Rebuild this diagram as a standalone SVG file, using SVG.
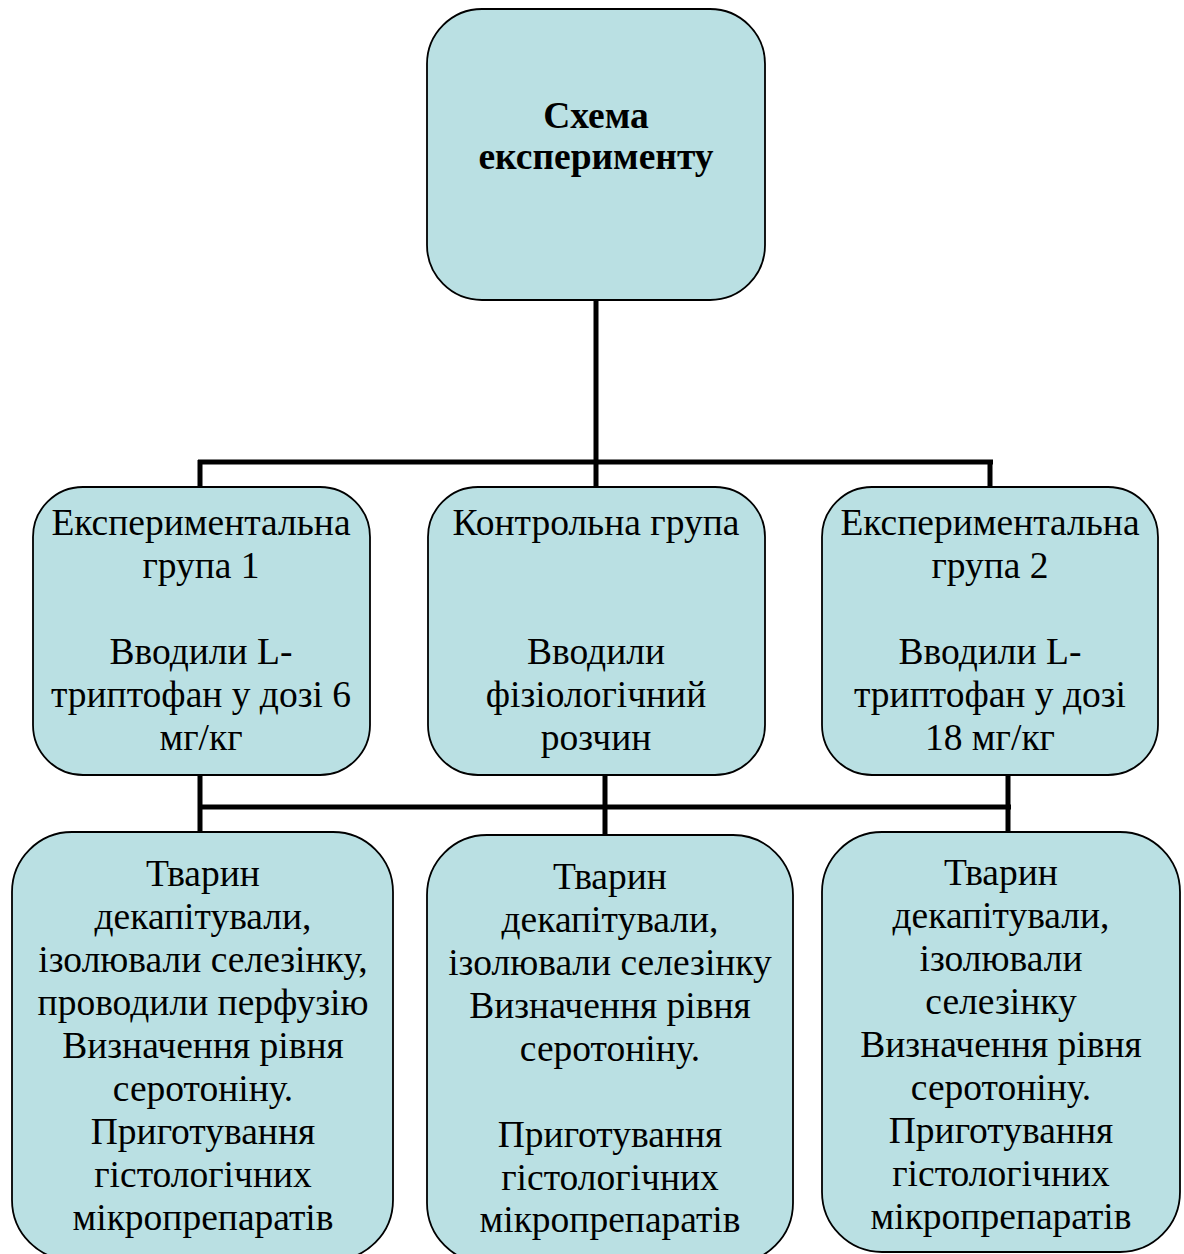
<svg xmlns="http://www.w3.org/2000/svg" width="1184" height="1254" viewBox="0 0 1184 1254">
<style>
.box{fill:#BAE0E3;stroke:#000;stroke-width:1.8}
.t{font-family:"Liberation Serif","Times New Roman",serif;font-size:37.5px;fill:#000;text-anchor:middle}
.b{font-weight:bold;font-size:37.5px}
.c{stroke:#000;stroke-width:5;fill:none;stroke-linecap:butt}
</style>
<rect width="1184" height="1254" fill="#fff"/>
<g id="connectors">
<path class="c" d="M596 300V462M198 462H993M200 460V487M596 460V487M990 460V487"/>
<path class="c" d="M200 775V832M198 807H1011M605 775V836M1008 775V832"/>
</g>
<g id="top">
<rect class="box" x="427" y="9" width="338" height="291" rx="55"/>
<text class="t b" x="596" y="128">Схема</text>
<text class="t b" x="596" y="169">експерименту</text>
</g>
<g id="exp1">
<rect class="box" x="33" y="487" width="337" height="288" rx="50"/>
<text class="t" x="201" y="535">Експериментальна</text>
<text class="t" x="201" y="578">група 1</text>
<text class="t" x="201" y="664">Вводили L-</text>
<text class="t" x="201" y="707">триптофан у дозі 6</text>
<text class="t" x="201" y="750">мг/кг</text>
</g>
<g id="control">
<rect class="box" x="428" y="487" width="337" height="288" rx="50"/>
<text class="t" x="596" y="535">Контрольна група</text>
<text class="t" x="596" y="664">Вводили</text>
<text class="t" x="596" y="707">фізіологічний</text>
<text class="t" x="596" y="750">розчин</text>
</g>
<g id="exp2">
<rect class="box" x="822" y="487" width="336" height="288" rx="50"/>
<text class="t" x="990" y="535">Експериментальна</text>
<text class="t" x="990" y="578">група 2</text>
<text class="t" x="990" y="664">Вводили L-</text>
<text class="t" x="990" y="707">триптофан у дозі</text>
<text class="t" x="990" y="750">18 мг/кг</text>
</g>
<g id="res1">
<rect class="box" x="12" y="832" width="381" height="428" rx="60"/>
<text class="t" x="203" y="886">Тварин</text>
<text class="t" x="203" y="929">декапітували,</text>
<text class="t" x="203" y="972">ізолювали селезінку,</text>
<text class="t" x="203" y="1015">проводили перфузію</text>
<text class="t" x="203" y="1058">Визначення рівня</text>
<text class="t" x="203" y="1101">серотоніну.</text>
<text class="t" x="203" y="1144">Приготування</text>
<text class="t" x="203" y="1187">гістологічних</text>
<text class="t" x="203" y="1230">мікропрепаратів</text>
</g>
<g id="res2">
<rect class="box" x="427" y="835" width="366" height="428" rx="60"/>
<text class="t" x="610" y="889">Тварин</text>
<text class="t" x="610" y="932">декапітували,</text>
<text class="t" x="610" y="975">ізолювали селезінку</text>
<text class="t" x="610" y="1018">Визначення рівня</text>
<text class="t" x="610" y="1061">серотоніну.</text>
<text class="t" x="610" y="1147">Приготування</text>
<text class="t" x="610" y="1190">гістологічних</text>
<text class="t" x="610" y="1232">мікропрепаратів</text>
</g>
<g id="res3">
<rect class="box" x="822" y="832" width="358" height="420" rx="60"/>
<text class="t" x="1001" y="885">Тварин</text>
<text class="t" x="1001" y="928">декапітували,</text>
<text class="t" x="1001" y="971">ізолювали</text>
<text class="t" x="1001" y="1014">селезінку</text>
<text class="t" x="1001" y="1057">Визначення рівня</text>
<text class="t" x="1001" y="1100">серотоніну.</text>
<text class="t" x="1001" y="1143">Приготування</text>
<text class="t" x="1001" y="1186">гістологічних</text>
<text class="t" x="1001" y="1229">мікропрепаратів</text>
</g>
</svg>
